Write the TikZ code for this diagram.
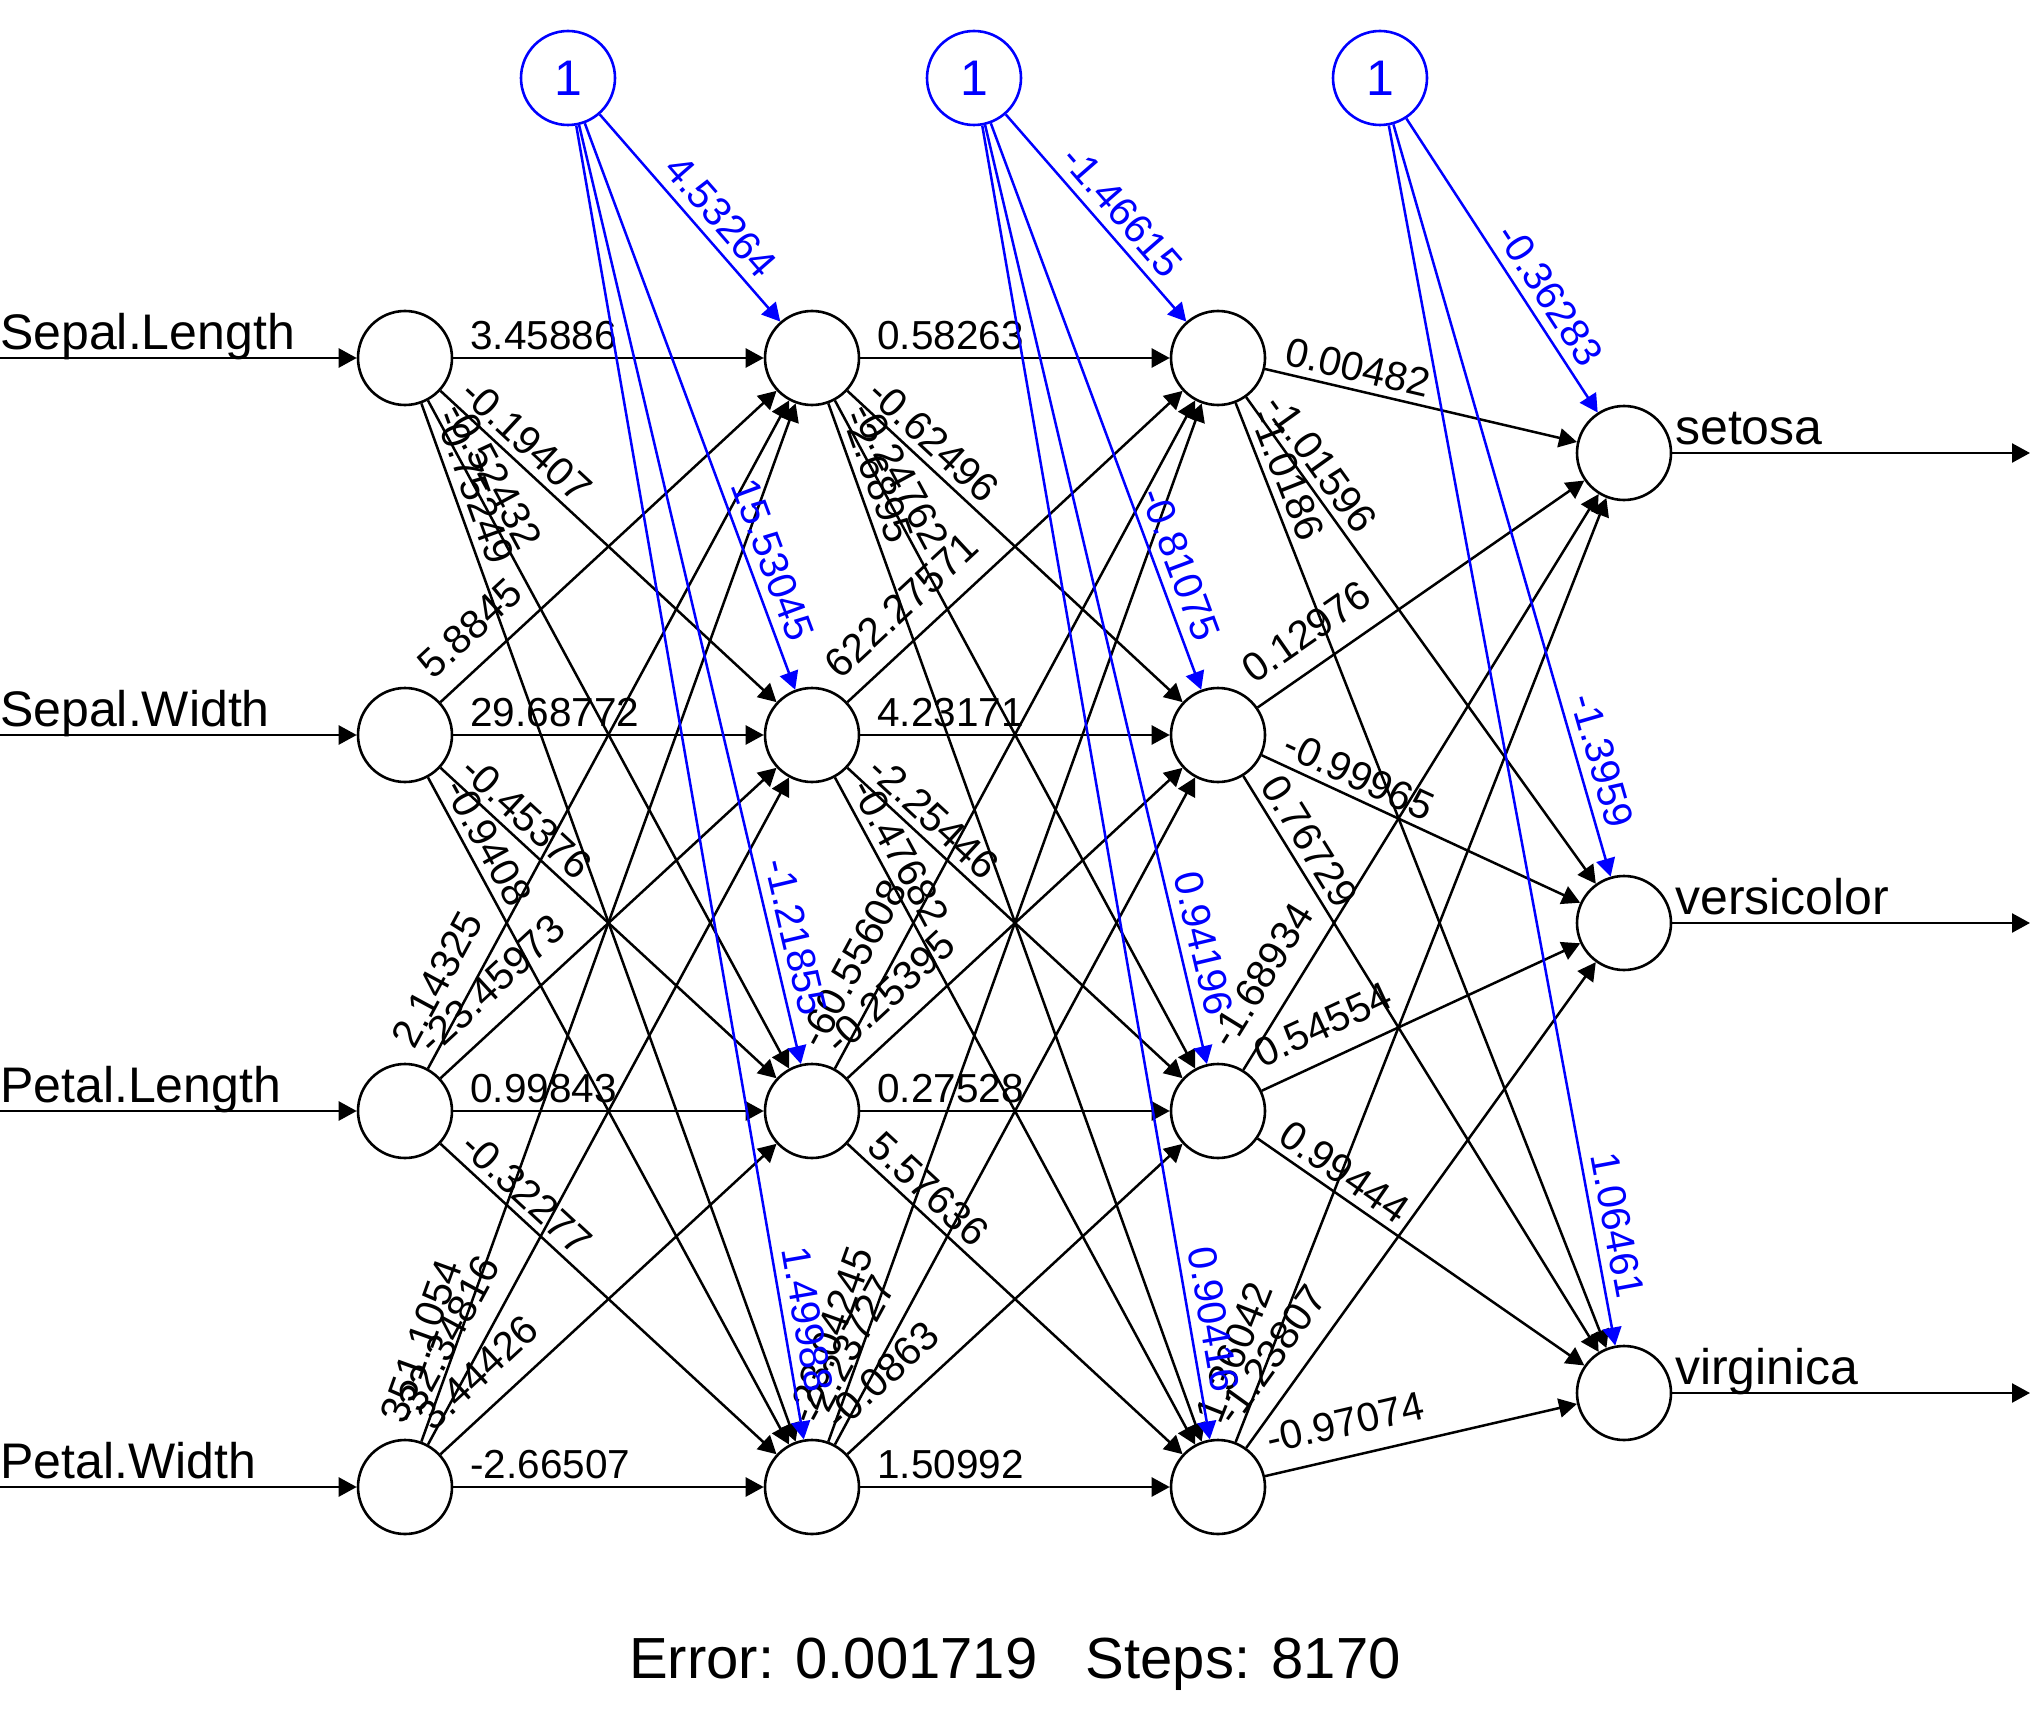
\documentclass[tikz,border=0pt]{standalone}
\usepackage{fontspec}
\setmainfont{Liberation Sans}
\usetikzlibrary{arrows.meta}
\newcommand\wfont{\fontsize{40.5}{48}\selectfont}
\newcommand\nfont{\fontsize{50}{60}\selectfont}
\newcommand\efont{\fontsize{58}{70}\selectfont}
\definecolor{rblue}{RGB}{0,0,255}
\begin{document}
\begin{tikzpicture}[x=1pt,y=-1pt,
  neuron/.style={circle, draw=black, line width=2.6pt, minimum size=94pt, inner sep=0pt, fill=white},
  biasn/.style={circle, draw=rblue, line width=2.6pt, minimum size=94pt, inner sep=0pt, fill=white, text=rblue, font=\nfont},
  wedge/.style={line width=2.5pt, draw=black, -{Triangle[length=18pt,width=19pt]}},
  bedge/.style={line width=2.5pt, draw=rblue, -{Triangle[length=18pt,width=19pt]}},
  wl/.style={pos=0, sloped, anchor=south west, inner xsep=17pt, inner ysep=8pt, outer sep=0pt, font=\wfont, text=black},
  wlu/.style={wl, inner xsep=10pt, inner ysep=20pt},
  bl/.style={pos=1, sloped, anchor=south east, inner xsep=45pt, inner ysep=10pt, outer sep=0pt, font=\wfont, text=rblue},
  nlab/.style={font=\nfont, anchor=base west, inner sep=0pt},
]
\fill[white] (0,0) rectangle (2030,1720);
\useasboundingbox (0,0) rectangle (2030,1720);

% nodes
\node[neuron] (i1) at (405,358) {};
\node[neuron] (i2) at (405,735) {};
\node[neuron] (i3) at (405,1111) {};
\node[neuron] (i4) at (405,1487) {};
\node[neuron] (h1) at (812,358) {};
\node[neuron] (h2) at (812,735) {};
\node[neuron] (h3) at (812,1111) {};
\node[neuron] (h4) at (812,1487) {};
\node[neuron] (g1) at (1218,358) {};
\node[neuron] (g2) at (1218,735) {};
\node[neuron] (g3) at (1218,1111) {};
\node[neuron] (g4) at (1218,1487) {};
\node[neuron] (o1) at (1624,453) {};
\node[neuron] (o2) at (1624,923) {};
\node[neuron] (o3) at (1624,1393) {};
\node[biasn] (b1) at (568,78) {1};
\node[biasn] (b2) at (974,78) {1};
\node[biasn] (b3) at (1380,78) {1};

% inputs
\coordinate (s1) at (0,358);
\coordinate (s2) at (0,735);
\coordinate (s3) at (0,1111);
\coordinate (s4) at (0,1487);
\node[nlab] (n1) at (0,349) {Sepal.Length};
\node[nlab] (n2) at (0,726) {Sepal.Width};
\node[nlab] (n3) at (0,1102) {Petal.Length};
\node[nlab] (n4) at (0,1478) {Petal.Width};
\draw[wedge] (s1) -- (i1);
\draw[wedge] (s2) -- (i2);
\draw[wedge] (s3) -- (i3);
\draw[wedge] (s4) -- (i4);

% outputs
\coordinate (t1) at (2030,453);
\coordinate (t2) at (2030,923);
\coordinate (t3) at (2030,1393);
\node[nlab] (m1) at (1675,444) {setosa};
\node[nlab] (m2) at (1675,914) {versicolor};
\node[nlab] (m3) at (1675,1384) {virginica};
\draw[wedge] (o1) -- (t1);
\draw[wedge] (o2) -- (t2);
\draw[wedge] (o3) -- (t3);

% input -> hidden 1
\draw[wedge] (i1) -- node[wl]{3.45886} (h1);
\draw[wedge] (i1) -- node[wl]{-0.19407} (h2);
\draw[wedge] (i1) -- node[wl]{-0.52432} (h3);
\draw[wedge] (i1) -- node[wl]{-0.75249} (h4);
\draw[wedge] (i2) -- node[wlu]{5.8845} (h1);
\draw[wedge] (i2) -- node[wl]{29.68772} (h2);
\draw[wedge] (i2) -- node[wl]{-0.45376} (h3);
\draw[wedge] (i2) -- node[wl]{-0.9408} (h4);
\draw[wedge] (i3) -- node[wlu]{2.14325} (h1);
\draw[wedge] (i3) -- node[wlu]{-23.45973} (h2);
\draw[wedge] (i3) -- node[wl]{0.99843} (h3);
\draw[wedge] (i3) -- node[wl]{-0.32277} (h4);
\draw[wedge] (i4) -- node[wlu]{351.1054} (h1);
\draw[wedge] (i4) -- node[wlu]{-32.34816} (h2);
\draw[wedge] (i4) -- node[wlu]{3.44426} (h3);
\draw[wedge] (i4) -- node[wl]{-2.66507} (h4);

% hidden 1 -> hidden 2
\draw[wedge] (h1) -- node[wl]{0.58263} (g1);
\draw[wedge] (h1) -- node[wl]{-0.62496} (g2);
\draw[wedge] (h1) -- node[wl]{-0.24762} (g3);
\draw[wedge] (h1) -- node[wl]{-2.6895} (g4);
\draw[wedge] (h2) -- node[wlu]{622.27571} (g1);
\draw[wedge] (h2) -- node[wl]{4.23171} (g2);
\draw[wedge] (h2) -- node[wl]{-2.25446} (g3);
\draw[wedge] (h2) -- node[wl]{-0.47682} (g4);
\draw[wedge] (h3) -- node[wlu]{-60.55608} (g1);
\draw[wedge] (h3) -- node[wlu]{-0.25395} (g2);
\draw[wedge] (h3) -- node[wl]{0.27528} (g3);
\draw[wedge] (h3) -- node[wl]{5.57636} (g4);
\draw[wedge] (h4) -- node[wlu]{-23.04245} (g1);
\draw[wedge] (h4) -- node[wlu]{-2.23727} (g2);
\draw[wedge] (h4) -- node[wlu]{-0.0863} (g3);
\draw[wedge] (h4) -- node[wl]{1.50992} (g4);

% hidden 2 -> output
\draw[wedge] (g1) -- node[wl]{0.00482} (o1);
\draw[wedge] (g1) -- node[wl]{-1.01596} (o2);
\draw[wedge] (g1) -- node[wl]{-1.0186} (o3);
\draw[wedge] (g2) -- node[wlu]{0.12976} (o1);
\draw[wedge] (g2) -- node[wl]{-0.99965} (o2);
\draw[wedge] (g2) -- node[wl]{0.76729} (o3);
\draw[wedge] (g3) -- node[wlu]{-1.68934} (o1);
\draw[wedge] (g3) -- node[wlu]{0.54554} (o2);
\draw[wedge] (g3) -- node[wl]{0.99444} (o3);
\draw[wedge] (g4) -- node[wlu]{1.36042} (o1);
\draw[wedge] (g4) -- node[wlu]{-1.23807} (o2);
\draw[wedge] (g4) -- node[wlu]{-0.97074} (o3);

% biases
\draw[bedge] (b1) -- node[bl]{4.53264} (h1);
\draw[bedge] (b1) -- node[bl]{15.53045} (h2);
\draw[bedge] (b1) -- node[bl]{-1.21855} (h3);
\draw[bedge] (b1) -- node[bl]{1.49988} (h4);
\draw[bedge] (b2) -- node[bl]{-1.46615} (g1);
\draw[bedge] (b2) -- node[bl]{-0.81075} (g2);
\draw[bedge] (b2) -- node[bl]{0.94196} (g3);
\draw[bedge] (b2) -- node[bl]{0.90416} (g4);
\draw[bedge] (b3) -- node[bl]{-0.36283} (o1);
\draw[bedge] (b3) -- node[bl]{-1.3959} (o2);
\draw[bedge] (b3) -- node[bl]{1.06461} (o3);

% footer
\node[font=\efont, anchor=base, inner sep=0pt] (err) at (1015,1678) {Error: 0.001719\hspace{0.834em}Steps: 8170};
\end{tikzpicture}
\end{document}
